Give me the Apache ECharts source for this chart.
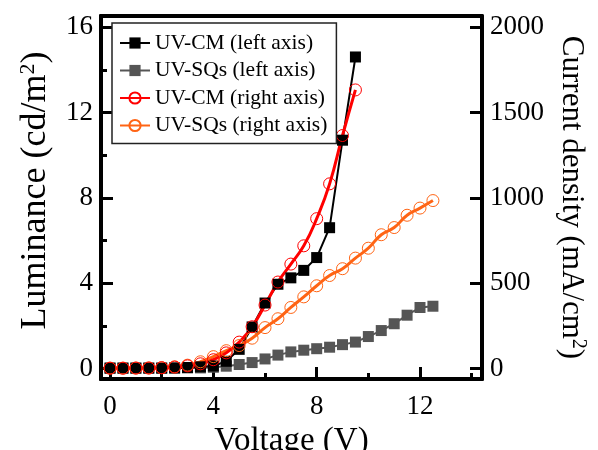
<!DOCTYPE html>
<html>
<head>
<meta charset="utf-8">
<script src="https://cdn.jsdelivr.net/npm/echarts@6/dist/echarts.min.js"></script>
<style>
  html, body { margin: 0; padding: 0; background: #fff; }
  #chart { width: 598px; height: 450px; }
</style>
</head>
<body>
<div id="chart"></div>
<script>
  // data
  const voltage = [0, 0.5, 1, 1.5, 2, 2.5, 3, 3.5, 4, 4.5, 5, 5.5, 6, 6.5, 7, 7.5, 8, 8.5, 9, 9.5, 10, 10.5, 11, 11.5, 12, 12.5];
  const cmLuminance = [0.02, 0.02, 0.02, 0.02, 0.02, 0.03, 0.05, 0.08, 0.12, 0.34, 0.9, 1.95, 3.07, 3.95, 4.25, 4.6, 5.2, 6.6, 10.7, 14.6];
  const sqLuminance = [0.02, 0.02, 0.02, 0.02, 0.02, 0.02, 0.03, 0.03, 0.06, 0.11, 0.19, 0.28, 0.45, 0.63, 0.78, 0.86, 0.93, 1.0, 1.12, 1.24, 1.5, 1.78, 2.1, 2.5, 2.86, 2.92];
  const cmCurrent = [2, 2, 3, 3, 5, 9, 16, 28, 52, 92, 155, 245, 372, 507, 612, 719, 878, 1082, 1365, 1632];
  const sqCurrent = [3, 3, 3, 4, 5, 10, 20, 40, 70, 105, 135, 178, 240, 292, 358, 420, 485, 545, 585, 647, 705, 784, 826, 898, 940, 984];

  const xTicks = [0, 4, 8, 12];
  const xMinorTicks = [2, 6, 10, 14];
  const lumTicks = [0, 4, 8, 12, 16];
  const lumMinorTicks = [2, 6, 10, 14];
  const currentTicks = [0, 500, 1000, 1500, 2000];

  const font = 'Liberation Serif';
  const pairs = vals => vals.map((v, i) => [voltage[i], v]);

  function tickAxis(ticks, len, labelMargin, extra) {
    return Object.assign({
      type: 'value',
      splitLine: { show: false },
      axisLine: { show: true, onZero: false, lineStyle: { color: '#000', width: 4 } },
      axisTick: { show: true, inside: true, length: len, customValues: ticks, lineStyle: { color: '#000', width: 3 } },
      axisLabel: labelMargin != null
        ? { show: true, customValues: ticks, fontFamily: font, fontSize: 27, color: '#000', margin: labelMargin, formatter: v => String(v) }
        : { show: false }
    }, extra);
  }

  const chart = echarts.init(document.getElementById('chart'));
  chart.setOption({
    animation: false,
    backgroundColor: '#fff',
    grid: { left: 101, right: 116, top: 16, bottom: 71, containLabel: false, outerBoundsMode: 'none' },
    legend: {
      orient: 'vertical',
      left: 112,
      top: 23,
      itemWidth: 30,
      itemHeight: 14,
      itemGap: 5.5,
      padding: [9, 9, 7, 7],
      borderColor: '#222',
      borderWidth: 1.5,
      backgroundColor: '#fff',
      textStyle: { fontFamily: font, fontSize: 21.5, color: '#000' },
      data: ['UV-CM (left axis)', 'UV-SQs (left axis)', 'UV-CM (right axis)', 'UV-SQs (right axis)']
    },
    xAxis: [
      tickAxis(xTicks, 12, 14, {
        position: 'bottom', min: -0.35, max: 14.4,
        name: 'Voltage (V)', nameLocation: 'middle', nameGap: 42,
        nameTextStyle: { fontFamily: font, fontSize: 33, color: '#000' }
      }),
      tickAxis(xMinorTicks, 6, null, { position: 'bottom', min: -0.35, max: 14.4 }),
      { type: 'value', position: 'top', min: -0.35, max: 14.4, splitLine: { show: false },
        axisLine: { show: true, onZero: false, lineStyle: { color: '#000', width: 4 } },
        axisTick: { show: false }, axisLabel: { show: false } }
    ],
    yAxis: [
      tickAxis(lumTicks, 12, 8, {
        position: 'left', min: -0.49, max: 16.52,
        name: '{a|Luminance (cd/m}{s|2}{a|)}', nameLocation: 'middle', nameGap: 46,
        nameTextStyle: {
          padding: [0, 0, 0, 14],
          rich: {
            a: { fontFamily: font, fontSize: 36, color: '#000' },
            s: { fontFamily: font, fontSize: 22, color: '#000', verticalAlign: 'top', padding: [0, 0, 16, 0] }
          }
        }
      }),
      tickAxis(lumMinorTicks, 6, null, { position: 'left', min: -0.49, max: 16.52 }),
      tickAxis(currentTicks, 12, 8, {
        position: 'right', min: -61, max: 2065,
        name: '{a|Current density (mA/cm}{s|2}{a|)}', nameLocation: 'middle', nameGap: 72, nameRotate: -90,
        nameTextStyle: {
          rich: {
            a: { fontFamily: font, fontSize: 31, color: '#000' },
            s: { fontFamily: font, fontSize: 20, color: '#000', verticalAlign: 'top', padding: [0, 0, 14, 0] }
          }
        }
      })
    ],
    series: [
      {
        name: 'UV-SQs (left axis)', type: 'line', xAxisIndex: 0, yAxisIndex: 0,
        data: pairs(sqLuminance), symbol: 'rect', symbolSize: 11,
        itemStyle: { color: '#555555' }, lineStyle: { color: '#555555', width: 2 }
      },
      {
        name: 'UV-CM (left axis)', type: 'line', xAxisIndex: 0, yAxisIndex: 0,
        data: pairs(cmLuminance), symbol: 'rect', symbolSize: 11,
        itemStyle: { color: '#000' }, lineStyle: { color: '#000', width: 2 }
      },
      {
        name: 'UV-SQs (right axis)', type: 'line', xAxisIndex: 0, yAxisIndex: 2,
        data: pairs(sqCurrent), symbol: 'circle', symbolSize: 12, smooth: true,
        itemStyle: { color: 'rgba(255,255,255,0)', borderColor: '#ff6414', borderWidth: 1 },
        lineStyle: { color: '#ff6414', width: 3 }
      },
      {
        name: 'UV-CM (right axis)', type: 'line', xAxisIndex: 0, yAxisIndex: 2,
        data: pairs(cmCurrent), symbol: 'circle', symbolSize: 12, smooth: true,
        itemStyle: { color: 'rgba(255,255,255,0)', borderColor: '#ff0000', borderWidth: 1 },
        lineStyle: { color: '#ff0000', width: 3 }
      }
    ]
  });
</script>
</body>
</html>
